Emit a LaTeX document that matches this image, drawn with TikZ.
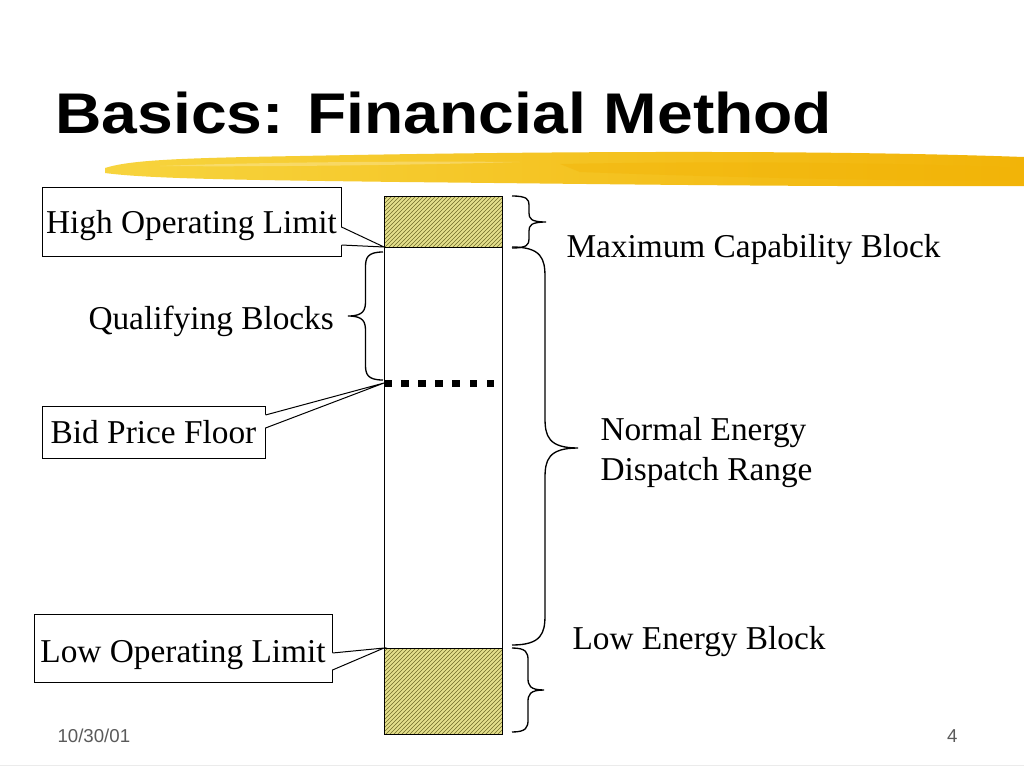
\documentclass[tikz,border=0pt]{standalone}
\usepackage{fontspec}
\setmainfont{Liberation Serif}
\newfontfamily\titlefont{Liberation Sans}
\usetikzlibrary{patterns,calc}
\definecolor{hatchbg}{RGB}{228,223,140}
\definecolor{hatchln}{RGB}{112,108,40}
\definecolor{brushlt}{RGB}{247,212,62}
\definecolor{brushdk}{RGB}{242,180,8}
\definecolor{footgray}{RGB}{90,90,90}

\begin{document}
\begin{tikzpicture}[x=0.75pt,y=-0.75pt,line width=0.75pt,
    bodytext/.style={font=\fontsize{25}{30}\selectfont, inner sep=0pt},
    callbox/.style={bodytext, draw, fill=white, text depth=0pt},
    hatched/.style={pattern=north east lines, pattern color=hatchln}]
    \fill[white] (0,0) rectangle (1024,768);
    \useasboundingbox (0,0) rectangle (1024,768);

    % Title and brush stroke
    \node[anchor=base west, inner sep=0pt, font=\titlefont\bfseries\fontsize{43}{52}\selectfont] (title) at (55,133) {\scalebox{1.12}[1]{Basics: Financial Method}};
    \shade[left color=brushlt, right color=brushdk] (105,168) .. controls (130,160) and (180,158) .. (300,156)
        .. controls (500,152) and (800,149) .. (1024,157) -- (1024,186)
        .. controls (800,187) and (600,184) .. (400,182) .. controls (250,180) and (150,179) .. (105,173) -- cycle;
    \fill[brushdk, opacity=0.45] (560,164) .. controls (760,160) and (930,164) .. (1024,168) -- (1024,181)
        .. controls (900,181) and (740,178) .. (580,172) -- cycle;
    \fill[white, opacity=0.25] (160,166) .. controls (260,162) and (420,161) .. (520,162)
        .. controls (420,165) and (260,167) .. (160,166) -- cycle;

    % Pointer tips on the column
    \coordinate (tiphi) at (384,247);
    \coordinate (tipbid) at (384,383);
    \coordinate (tiplo) at (384,648);

    % Callout boxes
    \node[callbox, text height=18pt, minimum width=224.25pt, minimum height=51.75pt] (hol) at (191.5,221.5) {High Operating Limit};
    \node[callbox, text height=17pt, minimum width=167.25pt, minimum height=39pt] (bpf) at (153.5,432) {Bid Price Floor};
    \node[callbox, text height=21pt, minimum width=223.5pt, minimum height=51pt] (lol) at (183,648) {Low Operating Limit};
    \foreach \n/\da/\db/\t in {hol/5.5/23.5/tiphi, bpf/-17/-4/tipbid, lol/5/22/tiplo} {
        \fill[white] ($(\n.east)+(-1,\da)$) -- (\t) -- ($(\n.east)+(-1,\db)$) -- cycle;
        \draw ($(\n.east)+(0,\da)$) -- (\t) -- ($(\n.east)+(0,\db)$);
    }

    % Column with hatched blocks
    \fill[hatchbg] (384,196) rectangle (502,247);
    \fill[hatched] (384,196) rectangle (502,247);
    \fill[hatchbg] (384,648) rectangle (502,734);
    \fill[hatched] (384,648) rectangle (502,734);
    \draw (384,196) rectangle (502,734);
    \draw (384,247) -- (502,247);
    \draw (384,648) -- (502,648);
    \foreach \i in {0,...,6}
        \fill ({384+17.1*\i},379.5) rectangle ++(7.5,7.5);

    % Braces
    \foreach \bx/\ba/\bb/\bm/\bw/\br in {512/196/248/222/34/9, 512/247/645/448/66/30, 512/648/732/690/32/12, 383/252/380/316/-35/15} {
        \draw[line width=1pt] (\bx,\ba) .. controls ({\bx+0.45*\bw},\ba) and ({\bx+0.5*\bw},{\ba+0.4*\br}) .. ({\bx+0.5*\bw},{\ba+\br})
            -- ({\bx+0.5*\bw},{\bm-\br}) .. controls ({\bx+0.5*\bw},{\bm-0.4*\br}) and ({\bx+0.55*\bw},\bm) .. ({\bx+\bw},\bm)
            .. controls ({\bx+0.55*\bw},\bm) and ({\bx+0.5*\bw},{\bm+0.4*\br}) .. ({\bx+0.5*\bw},{\bm+\br})
            -- ({\bx+0.5*\bw},{\bb-\br}) .. controls ({\bx+0.5*\bw},{\bb-0.4*\br}) and ({\bx+0.45*\bw},\bb) .. (\bx,\bb);
    }

    % Labels
    \node[bodytext, anchor=base west] (maxcap) at (566,257) {Maximum Capability Block};
    \node[bodytext, anchor=base west] (qual) at (88,329) {Qualifying Blocks};
    \node[bodytext, anchor=base west] (nerg) at (600,440) {Normal Energy};
    \node[bodytext, anchor=base west] (drng) at (600,480) {Dispatch Range};
    \node[bodytext, anchor=base west] (lowe) at (572,649) {Low Energy Block};

    % Footer
    \node[anchor=base west, inner sep=0pt, font=\titlefont\fontsize{14}{16}\selectfont, text=footgray] (date) at (57,742) {10/30/01};
    \node[anchor=base east, inner sep=0pt, font=\titlefont\fontsize{14}{16}\selectfont, text=footgray] (page) at (958,742) {4};
    \draw[black!8] (0,765.5) -- (1024,765.5);
\end{tikzpicture}
\end{document}
